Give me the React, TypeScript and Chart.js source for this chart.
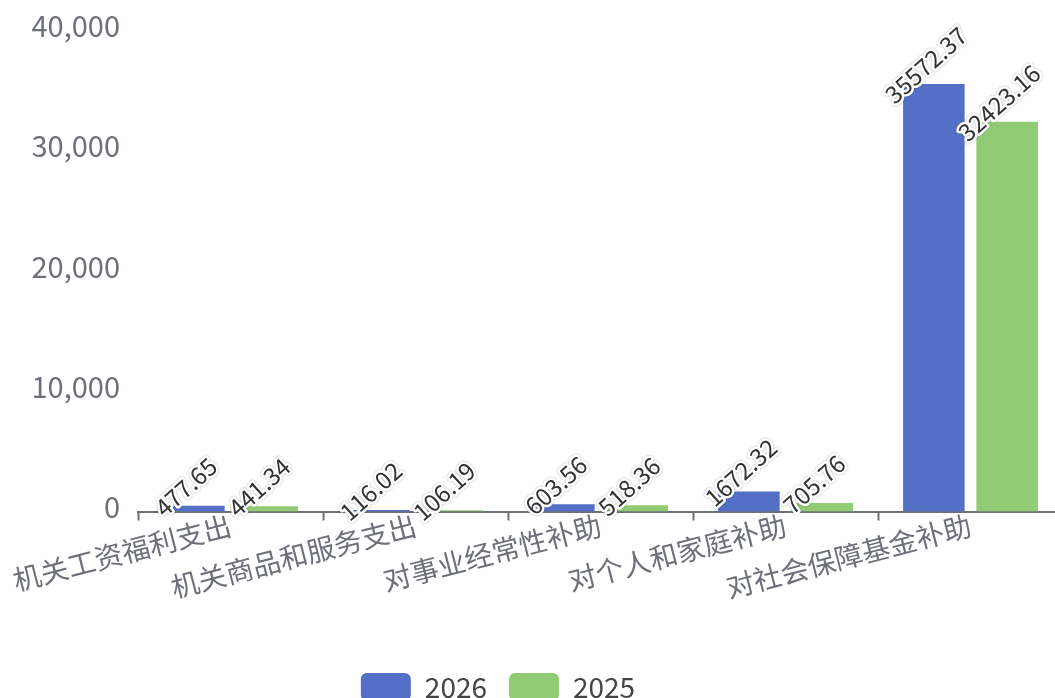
import { useEffect, useRef } from "react";
import { Chart, registerables } from "chart.js";

Chart.register(...registerables);

const categories = [
  "机关工资福利支出",
  "机关商品和服务支出",
  "对事业经常性补助",
  "对个人和家庭补助",
  "对社会保障基金补助",
];
const seriesNames = ["2026", "2025"];
const values2026 = [477.65, 116.02, 603.56, 1672.32, 35572.37];
const values2025 = [441.34, 106.19, 518.36, 705.76, 32423.16];
const yMin = 0;
const yMax = 40000;
const yStep = 10000;

const COLORS = ["#5470c6", "#91cc75"];
const AXIS = "#6e7079";
const FONT = '"Noto Sans CJK SC", "Noto Sans", sans-serif';
const W = 1063;
const H = 711;

export default function App() {
  const ref = useRef<HTMLCanvasElement>(null);

  useEffect(() => {
    if (!ref.current) return;

    const labelPlugin = {
      id: "barLabels",
      afterDatasetsDraw(chart: any) {
        const ctx = chart.ctx;
        chart.data.datasets.forEach((ds: any, di: number) => {
          const meta = chart.getDatasetMeta(di);
          meta.data.forEach((el: any, i: number) => {
            const text = Number(ds.data[i]).toFixed(2);
            ctx.save();
            ctx.translate(el.x, el.y - 10);
            ctx.rotate((-42 * Math.PI) / 180);
            ctx.font = `24px ${FONT}`;
            ctx.textAlign = "center";
            ctx.textBaseline = "bottom";
            ctx.lineJoin = "round";
            ctx.shadowColor = "rgba(0,0,0,0.35)";
            ctx.shadowBlur = 2;
            ctx.strokeStyle = "#ffffff";
            ctx.lineWidth = 5;
            ctx.strokeText(text, 0, 0);
            ctx.shadowColor = "transparent";
            ctx.shadowBlur = 0;
            ctx.fillStyle = "#333333";
            ctx.fillText(text, 0, 0);
            ctx.restore();
          });
        });
      },
    };

    const legendShift = {
      id: "legendShift",
      afterLayout(chart: any) {
        const l = chart.legend;
        if (!l) return;
        const target = 498;
        const shift = target - (l.left + l.right) / 2;
        l.left += shift;
        l.right += shift;
      },
    };

    const chart = new Chart(ref.current, {
      type: "bar",
      data: {
        labels: categories,
        datasets: [
          {
            label: seriesNames[0],
            data: values2026,
            backgroundColor: COLORS[0],
            borderWidth: 0,
          },
          {
            label: seriesNames[1],
            data: values2025,
            backgroundColor: COLORS[1],
            borderWidth: 0,
          },
        ],
      },
      options: {
        animation: false,
        responsive: false,
        devicePixelRatio: 1,
        layout: { padding: { top: 30.7, left: 0, right: 0, bottom: 0 } },
        datasets: {
          bar: { categoryPercentage: 0.7924, barPercentage: 0.84 },
        },
        plugins: {
          tooltip: { enabled: false },
          legend: {
            position: "bottom",
            labels: {
              boxWidth: 50,
              boxHeight: 28,
              useBorderRadius: true,
              borderRadius: 6,
              padding: 22,
              color: "#444444",
              font: { family: FONT, size: 28 },
            },
          },
        },
        scales: {
          x: {
            grid: {
              display: true,
              drawOnChartArea: false,
              drawTicks: true,
              tickLength: 9,
              tickWidth: 2,
              color: AXIS,
              offset: true,
            },
            border: { display: true, color: AXIS, width: 2 },
            ticks: {
              autoSkip: false,
              minRotation: 14.5,
              maxRotation: 14.5,
              padding: -12,
              color: AXIS,
              font: { family: FONT, size: 28 },
            },
            afterFit(scale: any) {
              scale.height = H - 60 - 511.5;
            },
          },
          y: {
            min: yMin,
            max: yMax,
            grid: { display: false, drawTicks: true, tickLength: 18 },
            border: { display: false },
            ticks: {
              stepSize: yStep,
              padding: 0,
              labelOffset: -4.5,
              color: AXIS,
              font: { family: FONT, size: 29 },
            },
            afterFit(scale: any) {
              scale.width = 138;
            },
          },
        },
      },
      plugins: [labelPlugin, legendShift],
    });

    return () => chart.destroy();
  }, []);

  return (
    <div
      style={{
        position: "fixed",
        left: 0,
        top: 0,
        width: 1055,
        height: 698,
        overflow: "hidden",
        background: "#ffffff",
      }}
    >
      <canvas
        ref={ref}
        width={W}
        height={H}
        style={{ display: "block", width: W, height: H }}
      />
    </div>
  );
}
